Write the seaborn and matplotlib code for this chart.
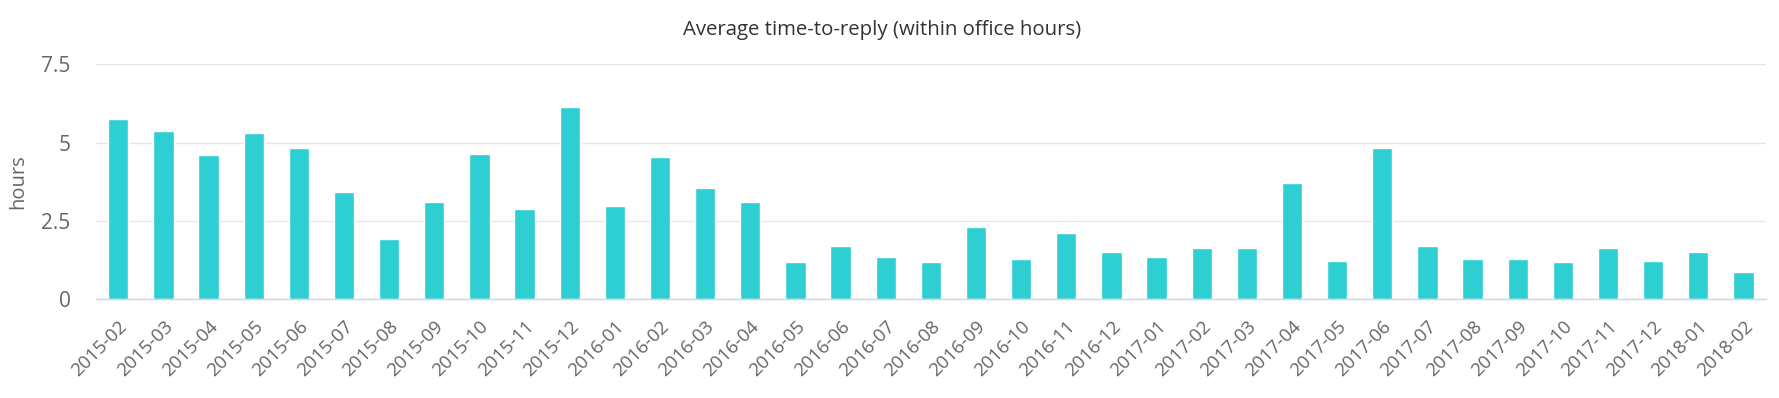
import matplotlib
matplotlib.use("Agg")
import matplotlib.pyplot as plt
import seaborn as sns
import pandas as pd
import numpy as np

months = ["2015-02","2015-03","2015-04","2015-05","2015-06","2015-07","2015-08","2015-09",
          "2015-10","2015-11","2015-12","2016-01","2016-02","2016-03","2016-04","2016-05",
          "2016-06","2016-07","2016-08","2016-09","2016-10","2016-11","2016-12","2017-01",
          "2017-02","2017-03","2017-04","2017-05","2017-06","2017-07","2017-08","2017-09",
          "2017-10","2017-11","2017-12","2018-01","2018-02"]
hours = [5.77, 5.36, 4.59, 5.31, 4.84, 3.41, 1.91, 3.09, 4.63, 2.88, 6.13,
         2.98, 4.53, 3.56, 3.09, 1.18, 1.69, 1.34, 1.18, 2.32, 1.29, 2.11, 1.50, 1.34,
         1.65, 1.65, 3.71, 1.23, 4.84, 1.69, 1.29, 1.29, 1.18, 1.65, 1.23, 1.50, 0.88]
yticks = [0, 2.5, 5, 7.5]
ytick_labels = ["0", "2.5", "5", "7.5"]

sns.set_theme(style="white")
plt.rcParams['font.family'] = ['Open Sans', 'DejaVu Sans']

df = pd.DataFrame({"month": months, "hours": hours})

fig = plt.figure(figsize=(17.79, 3.98), dpi=100)
ax = fig.add_axes([0.0538, 0.248, 0.9389, 0.5904])
sns.barplot(data=df, x="month", y="hours", color="#2ECFD2", saturation=1,
            width=0.45, ax=ax, zorder=3)

ax.set_xlim(-0.5, len(months) - 0.5)
ax.set_ylim(0, 7.5)
ax.set_yticks(yticks)
ax.set_yticklabels(ytick_labels)
ax.yaxis.grid(True, color="#e6e6e6", linewidth=1, zorder=0)
ax.xaxis.grid(False)
for s in ["top", "right", "left"]:
    ax.spines[s].set_visible(False)
ax.spines["bottom"].set_color("#ccd6eb")
ax.spines["bottom"].set_linewidth(1)
ax.spines["bottom"].set_zorder(4)

ax.set_xticks(range(len(months)))
ax.set_xticklabels(months, rotation=45, ha="right", rotation_mode="anchor",
                   fontsize=13.5, color="#666666")
ax.tick_params(axis="x", which="major", length=0, pad=13)
ax.set_xticks(np.arange(-0.5, len(months)), minor=True)
ax.tick_params(axis="x", which="minor", length=10, color="#ccd6eb", width=1)
ax.tick_params(axis="y", length=0, pad=18, labelsize=15, labelcolor="#666666")

ax.set_xlabel("")
ax.set_ylabel("")
fig.text(18.5 / 1779, 1 - 181.5 / 398, "hours", rotation=90, ha="center", va="center",
         fontsize=14.5, color="#666666")
fig.text(882 / 1779, 1 - 35 / 398, "Average time-to-reply (within office hours)",
         ha="center", va="baseline", fontsize=14.7, color="#333333")

fig.savefig("out.png", dpi=100, facecolor="white")
